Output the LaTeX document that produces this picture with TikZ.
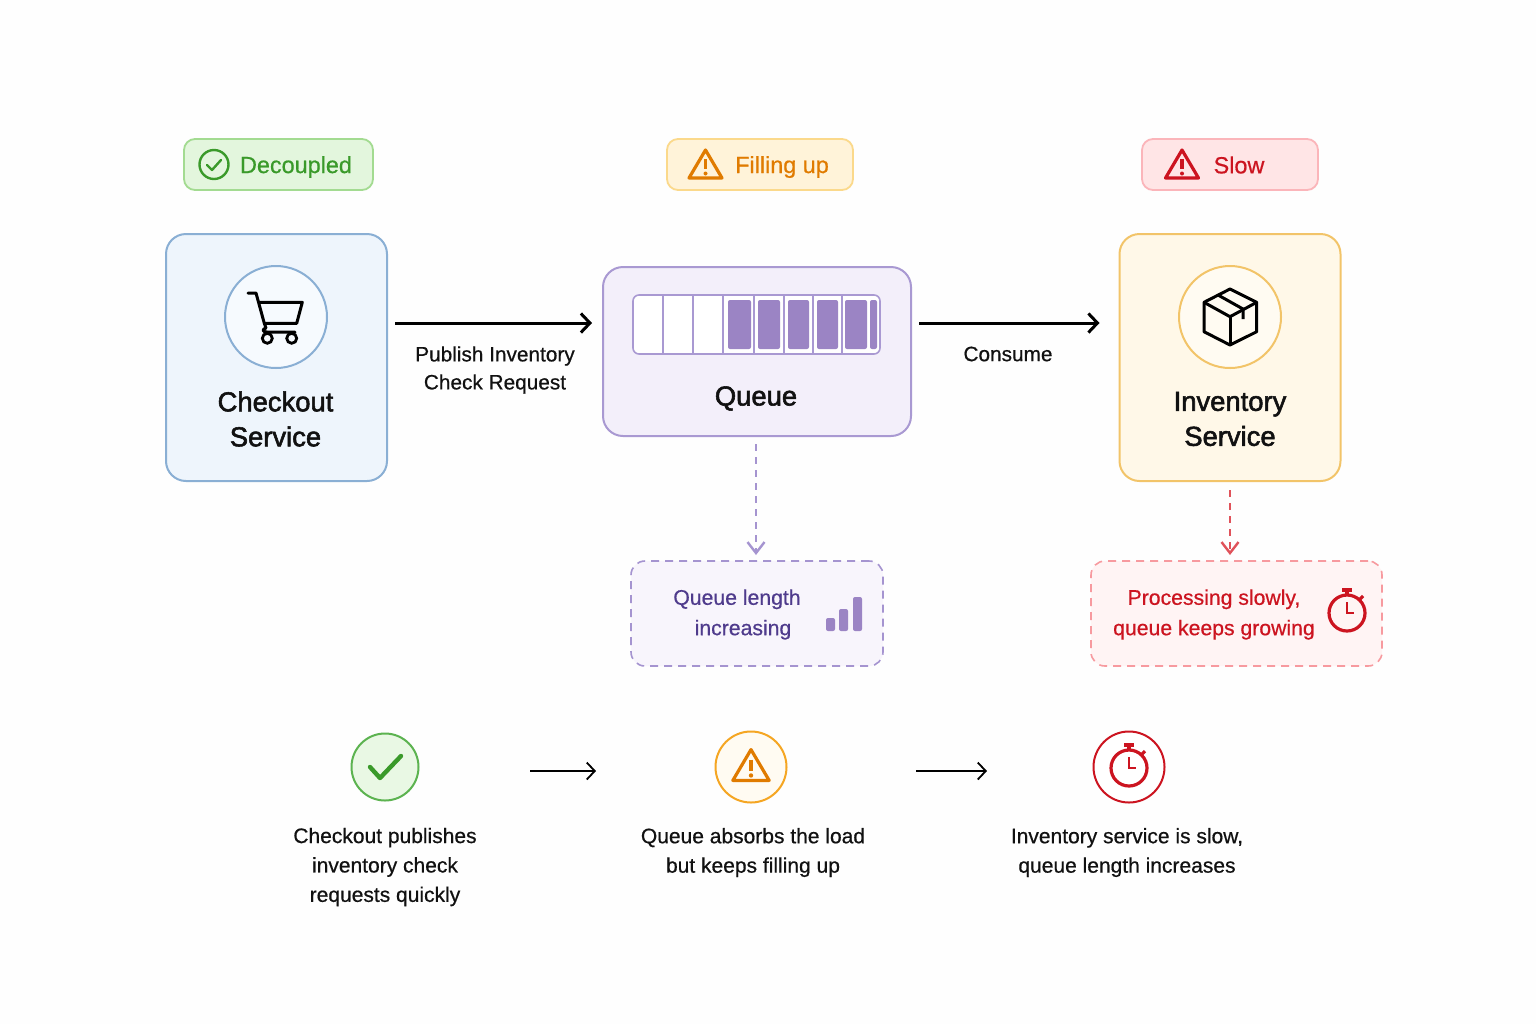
\documentclass[tikz,border=0pt]{standalone}
\usepackage{fontspec}
\setmainfont[FakeBold=0.6]{Liberation Sans}
\newfontfamily\medfont[FakeBold=2]{Liberation Sans}
\usetikzlibrary{arrows.meta}
\definecolor{pagebg}{HTML}{FEFEFE}
\definecolor{inkblack}{HTML}{111111}
\definecolor{blueline}{HTML}{8AAFD4}
\definecolor{bluefill}{HTML}{EEF5FC}
\definecolor{bluecore}{HTML}{F6FAFE}
\definecolor{purpleline}{HTML}{A999D2}
\definecolor{purplefill}{HTML}{F3EFFA}
\definecolor{purplebar}{HTML}{9B84C4}
\definecolor{purpledash}{HTML}{A594D0}
\definecolor{purplesoft}{HTML}{F8F5FC}
\definecolor{purpletext}{HTML}{4F3B8C}
\definecolor{yellowline}{HTML}{F2C469}
\definecolor{yellowfill}{HTML}{FFF8E8}
\definecolor{yellowcore}{HTML}{FFFBF2}
\definecolor{greenline}{HTML}{A3DB91}
\definecolor{greenfill}{HTML}{E3F6DD}
\definecolor{greentext}{HTML}{3A9A2A}
\definecolor{greenring}{HTML}{5CB350}
\definecolor{greensoft}{HTML}{E9F8E4}
\definecolor{orangeline}{HTML}{FBD98B}
\definecolor{orangefill}{HTML}{FFF3D9}
\definecolor{orangetext}{HTML}{E07B00}
\definecolor{orangering}{HTML}{F5A623}
\definecolor{redline}{HTML}{FBB5BA}
\definecolor{redfill}{HTML}{FFE5E6}
\definecolor{redtext}{HTML}{CC1420}
\definecolor{reddash}{HTML}{F79A9F}
\definecolor{redsoft}{HTML}{FFF4F4}
\definecolor{redarrow}{HTML}{E0525A}
\tikzset{
  svcbox/.style={rectangle, rounded corners=10pt, line width=1pt, inner sep=0pt, outer sep=0pt, minimum width=110.5pt, minimum height=123.5pt},
  badgebox/.style={rectangle, rounded corners=5.5pt, line width=0.9pt, inner sep=0pt, outer sep=0pt, minimum height=25.5pt},
  notebox/.style={rectangle, rounded corners=7pt, line width=0.8pt, dash pattern=on 4pt off 3pt, inner sep=0pt, outer sep=0pt, minimum height=52.5pt},
  iconring/.style={circle, line width=1pt, inner sep=0pt, outer sep=0pt, minimum size=51pt},
  stepring/.style={circle, line width=1pt, inner sep=0pt, outer sep=0pt},
  titletext/.style={text=inkblack, align=center, font=\medfont\fontsize{13.7}{17.5}\selectfont},
  smalltext/.style={text=inkblack, align=center, font=\fontsize{10.4}{14}\selectfont},
  steptext/.style={text=inkblack, align=center, font=\fontsize{10.5}{14.7}\selectfont},
  notetext/.style={align=center, font=\fontsize{10.6}{15.2}\selectfont},
  badgetext/.style={font=\fontsize{11.7}{14}\selectfont},
  flowarrow/.style={draw=black, line width=1.5pt, -{Straight Barb[length=4.5pt,width=9.5pt,line width=1.5pt]}},
  steparrow/.style={draw=black, line width=0.8pt, -{Straight Barb[length=4pt,width=8.5pt,line width=0.9pt]}},
  dasharrow/.style={line width=0.8pt, dash pattern=on 3.5pt off 3pt, -{Straight Barb[length=5.5pt,width=8.5pt,line width=1.2pt]}},
  slotcell/.style={draw=purpleline, fill=white, line width=0.8pt},
  slotbar/.style={fill=purplebar, rounded corners=1pt},
  warnicon/.pic={
    \draw [line width=1.6pt, line join=round] (0,-14) -- (16.5,14) -- (-16.5,14) -- cycle;
    \draw [line width=1.6pt] (0,-5) -- (0,5);
    \fill (0,9.5) circle (2);
  },
  clockicon/.pic={
    \draw [line width=1.6pt] (0,3) circle (18);
    \draw [line width=1.6pt] (-5,-20) -- (5,-20);
    \draw [line width=1.6pt] (0,-20) -- (0,-15);
    \draw [line width=1.6pt] (13,-11) -- (16,-14);
    \draw [line width=1.4pt] (0,-8) -- (0,3) -- (7,3);
  }
}
\begin{document}
\begin{tikzpicture}[x=0.5pt,y=-0.5pt]
\useasboundingbox (0,0) rectangle (1536,1024);
\fill [pagebg] (0,0) rectangle (1536,1024);
\coordinate (toprow) at (0,323);
\coordinate (steprow) at (0,771);

\node [badgebox, draw=greenline, fill=greenfill, minimum width=94.5pt] (decoupled) at (278.5,164.5) {};
\node [badgebox, draw=orangeline, fill=orangefill, minimum width=93pt] (filling) at (760,164.5) {};
\node [badgebox, draw=redline, fill=redfill, minimum width=88pt] (slow) at (1230,164.5) {};
\node [badgetext, text=greentext] (decoupledtext) at (296,167) {Decoupled};
\node [badgetext, text=orangetext] (fillingtext) at (782,167) {Filling up};
\node [badgetext, text=redtext] (slowtext) at (1239,165) {Slow};
\draw [greentext, line width=1.2pt] (214,164.5) circle (14.5);
\draw [greentext, line width=1.2pt, line cap=round, line join=round] (207,165) -- (212,170) -- (221,160);
\pic [color=orangetext] (fillingicon) at (705.5,164) {warnicon};
\pic [color=redtext] (slowicon) at (1182,164) {warnicon};

\node [svcbox, draw=blueline, fill=bluefill] (checkout) at (276.5,357.5) {};
\node [svcbox, draw=yellowline, fill=yellowfill] (inventory) at (1230,357.5) {};
\node [rectangle, rounded corners=10pt, line width=1pt, inner sep=0pt, outer sep=0pt, draw=purpleline, fill=purplefill, minimum width=154pt, minimum height=84.5pt] (queue) at (757,351.5) {};
\node [iconring, draw=blueline, fill=bluecore] (cartring) at (276,317) {};
\node [iconring, draw=yellowline, fill=yellowcore] (boxring) at (1230,317) {};
\node [titletext] (checkouttext) at (275.5,419) {Checkout\\Service};
\node [titletext] (inventorytext) at (1230,419) {Inventory\\Service};
\node [titletext] (queuetext) at (756,398.5) {Queue};

\draw [line width=1.5pt, line join=round, line cap=round] (248,293) -- (256,293) -- (264.3,323.3) -- (266,328) .. controls (262,329) and (262,332) .. (267,332) -- (295,332);
\draw [line width=1.5pt, line join=round] (258.3,302.3) -- (302.3,302.3) -- (296.7,323.3) -- (264.3,323.3);
\draw [line width=1.4pt] (267.3,338.3) circle (5);
\draw [line width=1.4pt] (291.7,338.3) circle (5);

\draw [line width=1.5pt, line join=round] (1230,289) -- (1256.7,302.3) -- (1256.7,331.7) -- (1230,345) -- (1204,331.7) -- (1204,302.3) -- cycle;
\draw [line width=1.5pt, line join=round] (1204,302.3) -- (1230,316.7) -- (1256.7,302.3);
\draw [line width=1.5pt] (1230,316.7) -- (1230,345);
\draw [line width=1.5pt] (1218,295) -- (1243,309) -- (1243,319);

\draw [slotcell, rounded corners=3pt] (633,295) rectangle (880,354);
\draw [slotcell] (663,295) -- (663,354);
\draw [slotcell] (693,295) -- (693,354);
\draw [slotcell] (723,295) -- (723,354);
\draw [slotcell] (754,295) -- (754,354);
\draw [slotcell] (784,295) -- (784,354);
\draw [slotcell] (813,295) -- (813,354);
\draw [slotcell] (842,295) -- (842,354);
\fill [slotbar] (728,300) rectangle (751,349);
\fill [slotbar] (758,300) rectangle (780,349);
\fill [slotbar] (788,300) rectangle (809,349);
\fill [slotbar] (817,300) rectangle (838,349);
\fill [slotbar] (845,300) rectangle (867,349);
\fill [slotbar] (870,300) rectangle (877,349);

\draw [flowarrow, shorten <=4pt, shorten >=5.5pt] (checkout.east |- toprow) -- (queue.west |- toprow);
\draw [flowarrow, shorten <=4pt, shorten >=10pt] (queue.east |- toprow) -- (inventory.west |- toprow);
\node [smalltext] (publishtext) at (495,370) {Publish Inventory\\Check Request};
\node [smalltext] (consumetext) at (1008,354) {Consume};

\node [notebox, draw=purpledash, fill=purplesoft, minimum width=126pt] (qlength) at (757,613.5) {};
\node [notebox, draw=reddash, fill=redsoft, minimum width=145.5pt] (slowbox) at (1236.5,613.5) {};
\node [notetext, text=purpletext] (qlengthtext) at (743,614.5) {Queue length\hspace*{6pt}\\increasing};
\node [notetext, text=redtext] (slowboxtext) at (1214,614.5) {Processing slowly,\\queue keeps growing};
\draw [dasharrow, draw=purpledash, shorten <=4pt, shorten >=3pt] ([xshift=-0.5pt]queue.south) -- ([xshift=-0.5pt]qlength.north);
\draw [dasharrow, draw=redarrow, shorten <=4.5pt, shorten >=3pt] (inventory.south) -- (inventory.south |- slowbox.north);
\fill [purplebar, rounded corners=1pt] (826,618) rectangle (835,631);
\fill [purplebar, rounded corners=1pt] (839,609) rectangle (848,631);
\fill [purplebar, rounded corners=1pt] (853,597) rectangle (862,631);
\pic [color=redtext] (slowclock) at (1347,610) {clockicon};

\node [stepring, draw=greenring, fill=greensoft, minimum size=33.5pt] (stepone) at (385,767) {};
\node [stepring, draw=orangering, fill=yellowcore, minimum size=35.5pt] (steptwo) at (751,767) {};
\node [stepring, draw=redtext, fill=white, minimum size=35.5pt] (stepthree) at (1129,767) {};
\draw [greentext, line width=2.2pt, line cap=round, line join=round] (370,767) -- (380,778) -- (401,756);
\pic [color=orangetext, scale=1.1] (stepwarn) at (751,765) {warnicon};
\pic [color=redtext] (stepclock) at (1129,765) {clockicon};
\draw [steparrow, shorten <=55.75pt, shorten >=59.75pt] (stepone.east |- steprow) -- (steptwo.west |- steprow);
\draw [steparrow, shorten <=64.75pt, shorten >=53.25pt] (steptwo.east |- steprow) -- (stepthree.west |- steprow);
\node [steptext] (steponetext) at (385,867) {Checkout publishes\\inventory check\\requests quickly};
\node [steptext] (steptwotext) at (753,852.5) {Queue absorbs the load\\but keeps filling up};
\node [steptext] (stepthreetext) at (1127,852.5) {Inventory service is slow,\\queue length increases};
\end{tikzpicture}
\end{document}
